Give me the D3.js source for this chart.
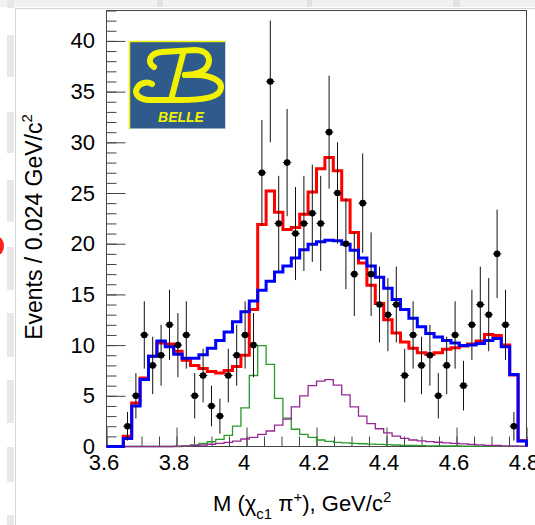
<!DOCTYPE html>
<html><head><meta charset="utf-8">
<script src="https://cdn.jsdelivr.net/npm/d3@7/dist/d3.min.js"></script>
<style>
html,body{margin:0;padding:0;background:#fff;}
svg{display:block;}
text{font-family:"Liberation Sans",Arial,Helvetica,sans-serif;}
</style>
</head><body>
<svg id="c" width="535" height="525"></svg>
<script>
// ---- data (50 bins of 0.024 GeV/c^2 from 3.6 to 4.8) ----
const xMin = 3.6, xMax = 4.8, binWidth = 0.024, yMax = 43;

const dataCounts = [0,0,2,5,11,8,9,12,10,11,
                    5,7,4,3,7,9,11,10,27,36,
                    22,28,21,22,23,22,31,25,20,17,
                    24,17,14,13,14,7,11,8,9,5,
                    8,11,6,12,14,13,19,12,2,0];

const totalFit = [0,0,1.0,4.3,6.75,8.9,10.2,10.1,9.4,8.5,
                  8.0,7.7,7.4,7.25,7.5,7.9,9.0,13.5,21.9,25.2,
                  23.1,21.4,21.6,22.9,25.1,27.4,28.5,27.2,24.3,21.1,
                  18.1,15.9,14.1,12.5,11.2,10.3,9.7,9.25,9.1,9.25,
                  9.6,9.75,9.9,10.1,10.4,11.05,10.95,10.0,7.05,0.57];

const altFit = [0,0,0.8,4.0,6.6,8.9,10.4,9.85,9.1,8.7,
                8.7,9.05,9.7,10.45,11.3,12.3,13.3,14.35,15.4,16.3,
                17.2,17.8,18.6,19.4,19.95,20.2,20.35,20.3,19.95,19.35,
                18.6,17.8,16.7,15.6,14.5,13.5,12.65,11.8,11.15,10.8,
                10.45,10.2,9.95,10.0,10.15,10.45,10.65,9.85,7.1,0.55];

const z1Component = [0,0,0,0,0,0,0,0,0,0.05,
                     0.15,0.3,0.47,0.7,1.1,2.0,3.8,7.0,9.95,8.1,
                     4.75,2.8,1.7,1.2,0.9,0.64,0.5,0.4,0.35,0.3,
                     0.27,0.24,0.2,0.18,0.15,0.12,0.1,0.08,0.07,0.06,
                     0.05,0.05,0.04,0.04,0.03,0.03,0.03,0.02,0.02,0.02];

const z2Component = [0,0,0,0,0,0,0,0,0.03,0.06,
                     0.1,0.15,0.22,0.3,0.4,0.54,0.74,0.9,1.2,1.53,
                     2.1,2.7,3.9,5.0,6.0,6.45,6.6,6.06,5.1,3.9,
                     3.0,2.25,1.75,1.35,1.02,0.8,0.64,0.55,0.48,0.42,
                     0.36,0.3,0.25,0.2,0.16,0.12,0.1,0.07,0.05,0.03];

const xTickValues = [3.6,3.8,4.0,4.2,4.4,4.6,4.8];
const xTickLabels = ["3.6","3.8","4","4.2","4.4","4.6","4.8"];
const yTickValues = [0,5,10,15,20,25,30,35,40];
const yTickLabels = ["0","5","10","15","20","25","30","35","40"];

// ---- drawing ----
const svg = d3.select("#c");
const W = 535, H = 525;
const plot = {l:106.5, r:526.5, t:10.5, b:446.5};

svg.append("rect").attr("width",W).attr("height",H).attr("fill","#fff");

// page decorations around the pad
const deco = svg.append("g");
deco.append("rect").attr("x",0).attr("y",0).attr("width",W).attr("height",7).attr("fill","#f1f1f1");
[[157,6],[307,5],[453,7]].forEach(([x0,w])=>deco.append("rect").attr("x",x0).attr("y",0).attr("width",w).attr("height",7).attr("fill","#e2e2e2"));
deco.append("line").attr("x1",16).attr("x2",W).attr("y1",8.5).attr("y2",8.5).attr("stroke","#d4d4d4");
deco.append("line").attr("x1",15.5).attr("x2",15.5).attr("y1",8).attr("y2",H).attr("stroke","#d8d8d8");
[[0,8],[35,77],[112,153],[180,222],[247,290],[313,357],[380,423],[447,482],[515,525]].forEach(([a,b])=>
  deco.append("rect").attr("x",7).attr("y",a).attr("width",7).attr("height",b-a).attr("fill","#e8e8e8"));
deco.append("ellipse").attr("cx",-2).attr("cy",246).attr("rx",6).attr("ry",9).attr("fill","#ff2020");

const x = d3.scaleLinear().domain([xMin,xMax]).range([plot.l,plot.r]);
const y = d3.scaleLinear().domain([0,yMax]).range([plot.b,plot.t]);
const edge = i => xMin + i*binWidth;

// axes ticks
const xMinor = d3.range(0,25).map(i=>xMin+i*0.05);
const yMinor = d3.range(0,44);
const gxMinor = svg.append("g").attr("transform",`translate(0,${plot.b})`)
  .call(d3.axisBottom(x).tickValues(xMinor).tickSize(-10).tickFormat(""));
const gx = svg.append("g").attr("transform",`translate(0,${plot.b})`)
  .call(d3.axisBottom(x).tickValues(xTickValues).tickSize(-19).tickPadding(8)
        .tickFormat((d,i)=>xTickLabels[i]));
const gyMinor = svg.append("g").attr("transform",`translate(${plot.l},0)`)
  .call(d3.axisLeft(y).tickValues(yMinor).tickSize(-10).tickFormat(""));
const gy = svg.append("g").attr("transform",`translate(${plot.l},0)`)
  .call(d3.axisLeft(y).tickValues(yTickValues).tickSize(-19).tickPadding(11.5)
        .tickFormat((d,i)=>yTickLabels[i]));
[gxMinor,gx,gyMinor,gy].forEach(g=>{
  g.select(".domain").remove();
  g.selectAll(".tick line").attr("stroke","#444");
  g.selectAll("text").attr("font-size",22).attr("fill","#000")
   .attr("font-family","'Liberation Sans',Arial,sans-serif");
});
gx.selectAll("text").attr("dx",-3);

// frame
svg.append("rect").attr("x",plot.l).attr("y",plot.t).attr("width",plot.r-plot.l).attr("height",plot.b-plot.t)
  .attr("fill","none").attr("stroke","#444").attr("stroke-width",1);

// histograms
function stepPts(vals){
  const pts = [[x(edge(0)),y(0)]];
  vals.forEach((v,i)=>{ pts.push([x(edge(i)),y(v)]); pts.push([x(edge(i+1)),y(v)]); });
  pts.push([x(edge(vals.length)),y(0)]);
  return pts;
}
const line = d3.line();
function hist(vals,color,w){
  svg.append("path").attr("d",line(stepPts(vals))).attr("fill","none")
    .attr("stroke",color).attr("stroke-width",w).attr("stroke-linejoin","miter");
}
hist(z1Component,"#2a9a2a",1.3);
hist(z2Component,"#962896",1.3);
hist(totalFit,"#ff0000",3);
hist(altFit,"#0000ff",3);

// data points
const pg = svg.append("g");
dataCounts.forEach((n,i)=>{
  if(n<=0) return;
  const c = xMin + (i+0.5)*binWidth, e = Math.sqrt(n);
  pg.append("line").attr("x1",x(c)).attr("x2",x(c)).attr("y1",y(n+e)).attr("y2",y(Math.max(0,n-e)))
    .attr("stroke","#111").attr("stroke-width",1);
  pg.append("line").attr("x1",x(c-binWidth/2)).attr("x2",x(c+binWidth/2)).attr("y1",y(n)).attr("y2",y(n))
    .attr("stroke","#111").attr("stroke-width",1);
  pg.append("circle").attr("cx",x(c)).attr("cy",y(n)).attr("r",3.3).attr("fill","#000");
});

// Belle logo
const lg = svg.append("g");
lg.append("rect").attr("x",129.5).attr("y",41.5).attr("width",96).attr("height",87).attr("fill","#2e5a8c");
lg.append("line").attr("x1",129).attr("x2",226).attr("y1",41.5).attr("y2",41.5).attr("stroke","#f0f000").attr("stroke-width",1.5);
lg.append("line").attr("x1",129.5).attr("x2",129.5).attr("y1",41).attr("y2",129).attr("stroke","#f0f000").attr("stroke-width",1.5);
lg.append("line").attr("x1",225.5).attr("x2",225.5).attr("y1",41).attr("y2",129).attr("stroke","#c8d4e4").attr("stroke-width",1);
const yel = "#f2f200";
lg.append("path").attr("d","M154,67 C146,62 150,53 162,52 L195,50 C207,50 211,58 208,65 C205,72 195,75 185,75")
  .attr("fill","none").attr("stroke",yel).attr("stroke-width",6).attr("stroke-linecap","round");
lg.append("path").attr("d","M184,50 L171,100").attr("fill","none").attr("stroke",yel).attr("stroke-width",6);
lg.append("path").attr("d","M185,75 C205,74 222,78 221,88 C220,97 205,100 180,100 L150,100 C138,100 134,93 137,88 C140,83 147,81 152,84")
  .attr("fill","none").attr("stroke",yel).attr("stroke-width",6).attr("stroke-linecap","round");
lg.append("text").attr("x",181).attr("y",121.5).attr("text-anchor","middle").attr("font-size",14)
  .attr("font-weight","bold").attr("font-style","italic").attr("fill",yel).text("BELLE");

// axis titles
const yt = svg.append("text").attr("transform","translate(41.5,227) rotate(-90)")
  .attr("text-anchor","middle").attr("font-size",23).attr("fill","#000");
yt.append("tspan").text("Events / 0.024 GeV/c");
yt.append("tspan").attr("dy",-10).attr("font-size",15).text("2");

const xt = svg.append("text").attr("x",213).attr("y",511).attr("font-size",22).attr("fill","#000");
xt.append("tspan").text("M (\u03C7");
xt.append("tspan").attr("dy",8).attr("font-size",15).text("c1");
xt.append("tspan").attr("dy",-8).text(" \u03C0");
xt.append("tspan").attr("dy",-9).attr("font-size",15).text("+");
xt.append("tspan").attr("dy",9).text("), GeV/c");
xt.append("tspan").attr("dy",-9).attr("font-size",15).text("2");
</script>
</body></html>
